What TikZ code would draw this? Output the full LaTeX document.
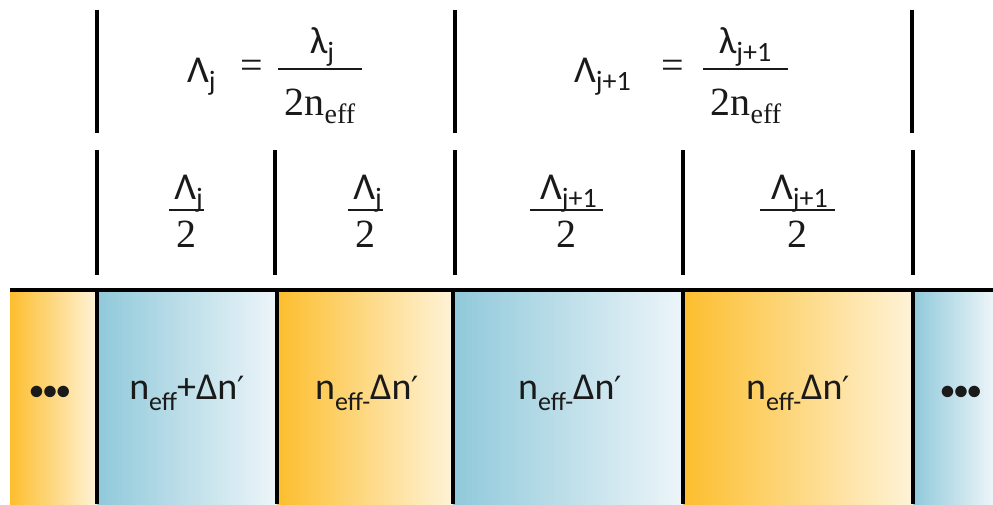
\documentclass[tikz,border=0pt]{standalone}
\usepackage{fontspec}
\setmainfont{Carlito}
\newfontfamily\serf{Liberation Serif}
\newfontfamily\dvs{DejaVu Sans}
\definecolor{org}{HTML}{FDBE2E}
\definecolor{orgl}{HTML}{FEF3D8}
\definecolor{blu}{HTML}{90C9DA}
\definecolor{blul}{HTML}{EDF5F9}
\definecolor{txt}{HTML}{1A1A1A}
\newcommand{\sbs}[1]{\raisebox{-0.22em}{\fontsize{28}{28}\selectfont #1}}
\newcommand{\csbs}[1]{\raisebox{-0.28em}{\fontsize{26}{26}\selectfont #1}}
\newcommand{\ssbs}[1]{\raisebox{-0.22em}{\fontsize{28}{28}\selectfont #1}}
\newcommand{\prm}{{\dvs\fontsize{32}{32}\selectfont ′}}
\tikzset{
  sepline/.style={line width=4.5pt, black},
  fracbar/.style={line width=2.4pt, txt},
  ocell/.style={left color=org, right color=orgl},
  bcell/.style={left color=blu, right color=blul},
  lbl/.style={font=\fontsize{38}{44}\selectfont, text=txt, inner sep=0pt},
  den/.style={font=\fontsize{40}{46}\selectfont\serf, text=txt, inner sep=0pt},
  cell/.style={font=\fontsize{38}{44}\selectfont, text=txt, inner sep=0pt},
  dots/.style={font=\fontsize{27}{32}\selectfont\bfseries, text=txt, inner sep=0pt},
}
\begin{document}
\begin{tikzpicture}[x=1pt,y=-1pt]
\useasboundingbox (0,0) rectangle (993,504);
% strip cells
\fill[ocell] (10,290) rectangle (97,504);
\fill[bcell] (97,290) rectangle (277,504);
\fill[ocell] (277,290) rectangle (453,504);
\fill[bcell] (453,290) rectangle (683,504);
\fill[ocell] (683,290) rectangle (913,504);
\fill[bcell] (913,290) rectangle (993,504);
% strip lines
\coordinate (tl) at (10,290);
\coordinate (tr) at (993,290);
\draw[sepline] (tl) -- (tr);
\foreach \x/\n in {97/a,277/b,453/c,683/d,913/e}{
  \coordinate (s\n t) at (\x,290);
  \coordinate (s\n b) at (\x,504);
  \draw[sepline] (s\n t) -- (s\n b);
}
% top row separators
\foreach \x/\n in {97/a,455/b,912/c}{
  \coordinate (u\n t) at (\x,10);
  \coordinate (u\n b) at (\x,133);
  \draw[sepline] (u\n t) -- (u\n b);
}
% second row separators
\foreach \x/\n in {97/a,275/b,455/c,683/d,913/e}{
  \coordinate (m\n t) at (\x,150);
  \coordinate (m\n b) at (\x,275);
  \draw[sepline] (m\n t) -- (m\n b);
}
% top formula 1
\node[lbl, anchor=base west] (L1) at (187,82) {Λ\sbs{j}};
\node[den] (E1) at (252,69) {=};
\coordinate (b1l) at (278,69); \coordinate (b1r) at (362,69);
\draw[fracbar] (b1l) -- (b1r);
\node[lbl, anchor=base] (N1) at (322,53) {λ\sbs{j}};
\node[den, anchor=base] (D1) at (320,115) {2n\ssbs{eff}};
% top formula 2
\node[lbl, anchor=base west] (L2) at (574,82) {Λ\sbs{j+1}};
\node[den] (E2) at (673,69) {=};
\coordinate (b2l) at (703,69); \coordinate (b2r) at (788,69);
\draw[fracbar] (b2l) -- (b2r);
\node[lbl, anchor=base] (N2) at (745,53) {λ\sbs{j+1}};
\node[den, anchor=base] (D2) at (746,115) {2n\ssbs{eff}};
% second row fractions
\foreach \l/\r/\t/\n in {169/204/j/p,348/383/j/q,530/603/j+1/r,760/835/j+1/s}{
  \coordinate (f\n l) at (\l,210); \coordinate (f\n r) at (\r,210);
  \draw[fracbar] (f\n l) -- (f\n r);
  \node[lbl, anchor=base] (fn\n) at ({(\l+\r)/2+2},199) {Λ\sbs{\t}};
  \node[den, anchor=base] (fd\n) at ({(\l+\r)/2},247) {2};
}
% cell texts
\node[dots] (c1) at (50,393) {•••};
\node[cell] (c2) at (187,393) {n\csbs{eff}+Δn\prm};
\node[cell] (c3) at (367,393) {n\csbs{eff-}Δn\prm};
\node[cell] (c4) at (570,393) {n\csbs{eff-}Δn\prm};
\node[cell] (c5) at (798,393) {n\csbs{eff-}Δn\prm};
\node[dots] (c6) at (961,393) {•••};
\end{tikzpicture}
\end{document}
